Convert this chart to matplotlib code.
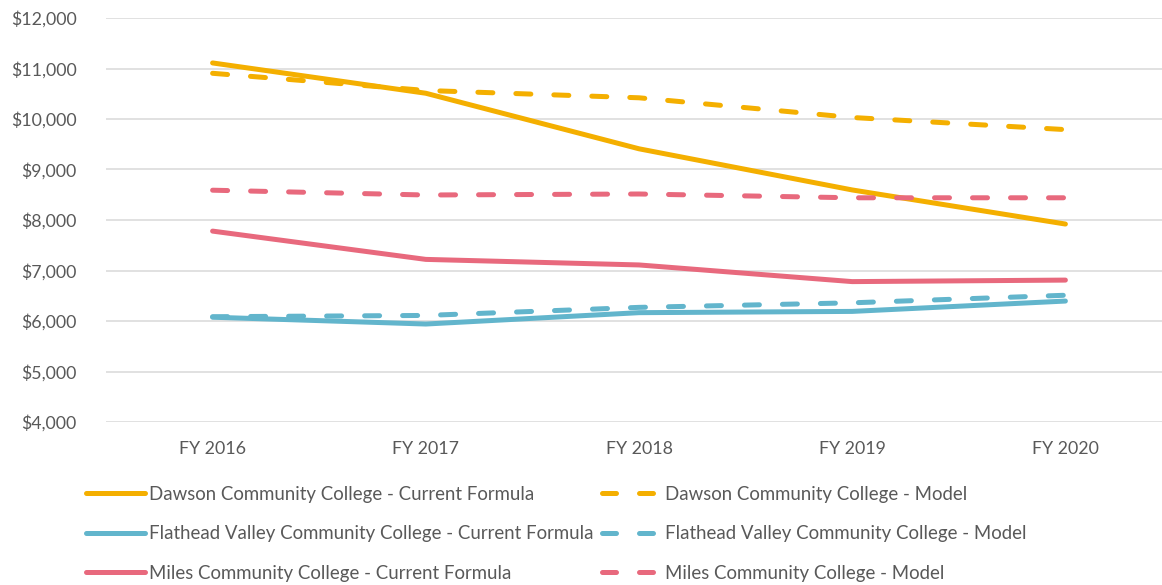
import matplotlib.pyplot as plt
from matplotlib.lines import Line2D

plt.rcParams['font.family'] = ['Lato', 'DejaVu Sans']

YEARS = ["FY 2016", "FY 2017", "FY 2018", "FY 2019", "FY 2020"]

dawson_current = [11110, 10510, 9410, 8595, 7920]
dawson_model = [10905, 10565, 10420, 10030, 9790]
flathead_current = [6075, 5940, 6165, 6190, 6395]
flathead_model = [6085, 6110, 6270, 6360, 6510]
miles_current = [7780, 7220, 7110, 6780, 6810]
miles_model = [8590, 8495, 8515, 8440, 8440]

GOLD = "#F4AF00"
TEAL = "#62B5CC"
PINK = "#E8697D"
TEXT = "#595959"

fig = plt.figure(figsize=(11.62, 5.85), dpi=100)
ax = fig.add_axes([106 / 1162, 1 - 422 / 585, (1172 - 106) / 1162, (422 - 18) / 585])

x = range(len(YEARS))
LW = 3.6
dash = (3, 4.6)

series = [
    (dawson_current, GOLD, "-", "Dawson Community College - Current Formula"),
    (flathead_current, TEAL, "-", "Flathead Valley Community College - Current Formula"),
    (miles_current, PINK, "-", "Miles Community College - Current Formula"),
    (dawson_model, GOLD, "--", "Dawson Community College - Model"),
    (flathead_model, TEAL, "--", "Flathead Valley Community College - Model"),
    (miles_model, PINK, "--", "Miles Community College - Model"),
]
handles = []
for vals, col, ls, label in series:
    if ls == "-":
        ax.plot(x, vals, color=col, lw=LW, solid_capstyle="round", solid_joinstyle="round")
        handles.append(Line2D([], [], color=col, lw=LW, solid_capstyle="round", label=label))
    else:
        ax.plot(x, vals, color=col, lw=LW, dashes=dash, dash_capstyle="round")
        handles.append(Line2D([], [], color=col, lw=LW, dashes=(2.8, 4.6), dash_capstyle="round", label=label))

ax.set_xlim(-0.5, 4.5)
ax.set_ylim(4000, 12000)
ax.set_yticks(range(4000, 12001, 1000))
ax.set_yticklabels([f"${v:,}" for v in range(4000, 12001, 1000)])
ax.set_xticks(list(x))
ax.set_xticklabels(YEARS)
ax.tick_params(length=0, labelsize=12.8, labelcolor=TEXT)
ax.tick_params(axis="y", pad=21)
ax.tick_params(axis="x", pad=14)
ax.grid(axis="y", color="#D9D9D9", lw=1.1)
ax.set_axisbelow(True)
for s in ax.spines.values():
    s.set_visible(False)

leg = fig.legend(handles=handles, ncol=2, loc="upper left", bbox_to_anchor=(86 / 1162, 1 - 486 / 585),
                 frameon=False, fontsize=13.4, labelcolor=TEXT, handlelength=3.15,
                 handletextpad=0.25, columnspacing=0.45, labelspacing=1.2,
                 borderpad=0, borderaxespad=0)

fig.savefig("out.png", dpi=100)
